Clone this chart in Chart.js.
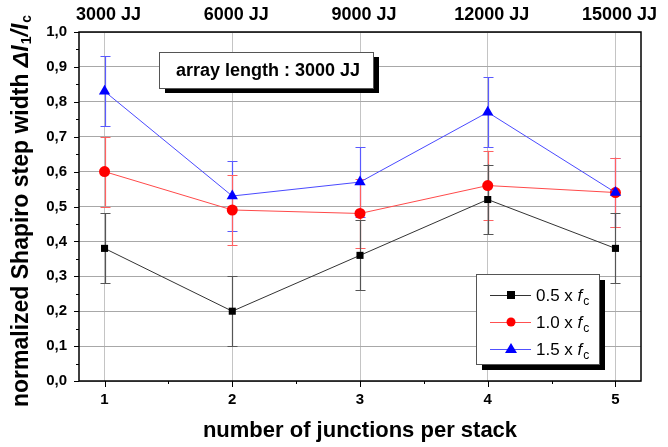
<!DOCTYPE html>
<html>
<head>
<meta charset="utf-8">
<script src="https://cdn.jsdelivr.net/npm/chart.js@4.4.1/dist/chart.umd.min.js"></script>
<style>
html,body{margin:0;padding:0;background:#fff;}
#wrap{width:668px;height:447px;position:relative;}
</style>
</head>
<body>
<div id="wrap"><canvas id="c" width="668" height="447"></canvas></div>
<script>
const junctions = [1, 2, 3, 4, 5];
const arrayLabels = ['3000 JJ', '6000 JJ', '9000 JJ', '12000 JJ', '15000 JJ'];
const yTicks = [0, 0.1, 0.2, 0.3, 0.4, 0.5, 0.6, 0.7, 0.8, 0.9, 1.0];
const width05 = [0.38, 0.20, 0.36, 0.52, 0.38];
const err05   = [0.10, 0.10, 0.10, 0.10, 0.10];
const width10 = [0.60, 0.49, 0.48, 0.56, 0.54];
const err10   = [0.10, 0.10, 0.10, 0.10, 0.10];
const width15 = [0.83, 0.53, 0.57, 0.77, 0.54];
const err15   = [0.10, 0.10, 0.10, 0.10, 0.10];
const seriesNames = ['0.5 x ', '1.0 x ', '1.5 x '];
const annotationText = 'array length : 3000 JJ';
const xTitle = 'number of junctions per stack';

const NARROW = '"Liberation Sans Narrow", "Arial Narrow", "Liberation Sans", Arial, sans-serif';
const SANS = '"Liberation Sans", Arial, sans-serif';

function pts(vals){ return junctions.map((x,i)=>({x:x, y:vals[i]})); }

const errSets = [err05, err10, err15];
const errColors = ['#555555', '#ff6060', '#5a5aff'];

const errorBarPlugin = {
  id: 'errbars',
  beforeDatasetsDraw(chart){
    const ctx = chart.ctx, xs = chart.scales.x, ys = chart.scales.y;
    ctx.save();
    [2,1,0].forEach(di=>{
      const ds = chart.data.datasets[di];
      ctx.strokeStyle = errColors[di];
      ctx.lineWidth = 1.2;
      ds.data.forEach((p,i)=>{
        const e = errSets[di][i];
        const px = Math.round(xs.getPixelForValue(p.x)) + 0.5;
        const top = ys.getPixelForValue(p.y + e);
        const bot = ys.getPixelForValue(p.y - e);
        ctx.beginPath();
        ctx.moveTo(px, top); ctx.lineTo(px, bot);
        ctx.moveTo(px-5, Math.round(top)+0.5); ctx.lineTo(px+5, Math.round(top)+0.5);
        ctx.moveTo(px-5, Math.round(bot)+0.5); ctx.lineTo(px+5, Math.round(bot)+0.5);
        ctx.stroke();
      });
    });
    ctx.restore();
  }
};

function drawRich(ctx, parts, x, y){
  let cx = x;
  parts.forEach(p=>{
    ctx.font = p.font;
    ctx.fillText(p.t, cx, y + (p.dy||0));
    cx += ctx.measureText(p.t).width + (p.gap||0);
  });
  return cx - x;
}
function measureRich(ctx, parts){
  let w = 0;
  parts.forEach(p=>{ ctx.font = p.font; w += ctx.measureText(p.t).width + (p.gap||0); });
  return w;
}

const decorPlugin = {
  id: 'decor',
  beforeDraw(chart){
    const ctx = chart.ctx;
    ctx.save();
    ctx.fillStyle = '#fff';
    ctx.fillRect(0,0,chart.width,chart.height);
    ctx.restore();
  },
  afterDraw(chart){
    const ctx = chart.ctx, ca = chart.chartArea, xs = chart.scales.x, ys = chart.scales.y;
    ctx.save();
    // frame
    ctx.strokeStyle = '#000'; ctx.lineWidth = 1.5;
    ctx.strokeRect(ca.left, ca.top, ca.right-ca.left, ca.bottom-ca.top);
    // ticks
    ctx.lineWidth = 1;
    ctx.beginPath();
    for (let v=0; v<=1.0001; v+=0.05){
      const py = Math.round(ys.getPixelForValue(v))+0.5;
      const major = Math.abs(v*10 - Math.round(v*10)) < 1e-6;
      ctx.moveTo(ca.left, py); ctx.lineTo(ca.left - (major?5:3), py);
    }
    for (let v=1; v<=5.0001; v+=0.5){
      const px = Math.round(xs.getPixelForValue(v))+0.5;
      const major = Math.abs(v - Math.round(v)) < 1e-6;
      ctx.moveTo(px, ca.bottom); ctx.lineTo(px, ca.bottom + (major?6:3));
    }
    ctx.stroke();

    // annotation box
    const bx=159, by=52, bw=214, bh=36;
    ctx.fillStyle = '#000';
    ctx.fillRect(bx+6, by+5, bw, bh);
    ctx.fillStyle = '#fff';
    ctx.fillRect(bx, by, bw, bh);
    ctx.strokeStyle = '#555'; ctx.lineWidth = 1;
    ctx.strokeRect(bx+0.5, by+0.5, bw, bh);
    ctx.fillStyle = '#000';
    ctx.font = 'bold 18px ' + SANS;
    ctx.textAlign = 'center'; ctx.textBaseline = 'middle';
    ctx.fillText(annotationText, bx + bw/2 + 2, by + bh/2 + 1);

    // legend box
    const lx=476, ly=274, lw=123, lh=90;
    ctx.fillStyle = '#000';
    ctx.fillRect(lx+6, ly+6, lw, lh);
    ctx.fillStyle = '#fff';
    ctx.fillRect(lx, ly, lw, lh);
    ctx.strokeStyle = '#555';
    ctx.strokeRect(lx+0.5, ly+0.5, lw, lh);
    const rowsY = [295, 322, 349];
    const lineCols = ['#333333', '#ff5050', '#5050ff'];
    const markCols = ['#000000', '#ff0000', '#0000ff'];
    ctx.textAlign = 'left'; ctx.textBaseline = 'alphabetic';
    rowsY.forEach((yy,i)=>{
      ctx.strokeStyle = lineCols[i]; ctx.lineWidth = 1;
      ctx.beginPath(); ctx.moveTo(490, yy+0.5); ctx.lineTo(531, yy+0.5); ctx.stroke();
      ctx.fillStyle = markCols[i];
      const mx = 511;
      if (i===0){ ctx.fillRect(mx-4, yy-4, 8, 8); }
      else if (i===1){ ctx.beginPath(); ctx.arc(mx, yy, 4.5, 0, Math.PI*2); ctx.fill(); }
      else { ctx.beginPath(); ctx.moveTo(mx, yy-6); ctx.lineTo(mx+6, yy+4); ctx.lineTo(mx-6, yy+4); ctx.closePath(); ctx.fill(); }
      ctx.fillStyle = '#000';
      drawRich(ctx, [
        {t: seriesNames[i], font: '17px ' + SANS},
        {t: 'f', font: 'italic 17px ' + SANS, gap: 1},
        {t: 'c', font: '12px ' + SANS, dy: 4}
      ], 536, yy + 6);
    });

    // top labels
    ctx.fillStyle = '#000';
    ctx.font = 'bold 18px ' + NARROW;
    ctx.textAlign = 'center'; ctx.textBaseline = 'middle';
    junctions.forEach((j,i)=>{
      ctx.fillText(arrayLabels[i], xs.getPixelForValue(j) + 4, 15);
    });

    // x title
    ctx.font = 'bold 22px ' + NARROW;
    ctx.fillText(xTitle, 360, 431);

    // y title (rotated)
    ctx.save();
    ctx.translate(22, 211);
    ctx.rotate(-Math.PI/2);
    ctx.textAlign = 'left'; ctx.textBaseline = 'middle';
    const F = '23px ' + SANS;
    const parts = [
      {t: 'normalized Shapiro step width ', font: 'bold ' + F},
      {t: '\u0394', font: 'italic bold ' + F},
      {t: 'I', font: 'italic bold ' + F, gap: 1},
      {t: '1', font: 'bold 14px ' + SANS, dy: 5},
      {t: '/', font: 'italic bold ' + F},
      {t: 'I', font: 'italic bold ' + F, gap: 1},
      {t: 'c', font: 'bold 14px ' + SANS, dy: 5}
    ];
    const w = measureRich(ctx, parts);
    drawRich(ctx, parts, -w/2, 0);
    ctx.restore();

    ctx.restore();
  }
};

const chart = new Chart(document.getElementById('c'), {
  type: 'line',
  data: {
    datasets: [
      { label: '0.5 x fc', data: pts(width05), borderColor: '#333333', borderWidth: 1,
        pointStyle: 'rect', pointRadius: 5, pointBackgroundColor: '#000', pointBorderColor: '#000', pointBorderWidth: 0, order: 3 },
      { label: '1.0 x fc', data: pts(width10), borderColor: '#ff4a4a', borderWidth: 1,
        pointStyle: 'circle', pointRadius: 5.5, pointBackgroundColor: '#ff0000', pointBorderColor: '#ff0000', pointBorderWidth: 0, order: 2 },
      { label: '1.5 x fc', data: pts(width15), borderColor: '#4a4aff', borderWidth: 1,
        pointStyle: 'triangle', pointRadius: 6.5, pointBackgroundColor: '#0000ff', pointBorderColor: '#0000ff', pointBorderWidth: 0, order: 1 }
    ]
  },
  options: {
    responsive: false,
    animation: false,
    devicePixelRatio: 1,
    layout: { padding: { left: 0, right: 27, top: 32, bottom: 0 } },
    plugins: { legend: { display: false }, tooltip: { enabled: false } },
    elements: { line: { tension: 0 } },
    scales: {
      x: {
        type: 'linear', min: 0.8, max: 5.2,
        afterBuildTicks(s){ s.ticks = junctions.map(v=>({value:v})); },
        afterFit(s){ s.height = 66; },
        grid: { color: '#c4c4c4', lineWidth: 1, drawTicks: false },
        border: { display: false },
        ticks: { color: '#000', font: { family: NARROW, weight: 'bold', size: 15 }, padding: 10,
                 callback: v => String(v) }
      },
      y: {
        type: 'linear', min: 0, max: 1,
        afterBuildTicks(s){ s.ticks = yTicks.map(v=>({value:v})); },
        afterFit(s){ s.width = 79; },
        grid: { color: '#a8a8a8', lineWidth: 1, drawTicks: false },
        border: { display: false },
        ticks: { color: '#000', font: { family: NARROW, weight: 'bold', size: 15 }, padding: 12,
                 callback: v => v.toFixed(1).replace('.', ',') }
      }
    }
  },
  plugins: [errorBarPlugin, decorPlugin]
});
</script>
</body>
</html>
